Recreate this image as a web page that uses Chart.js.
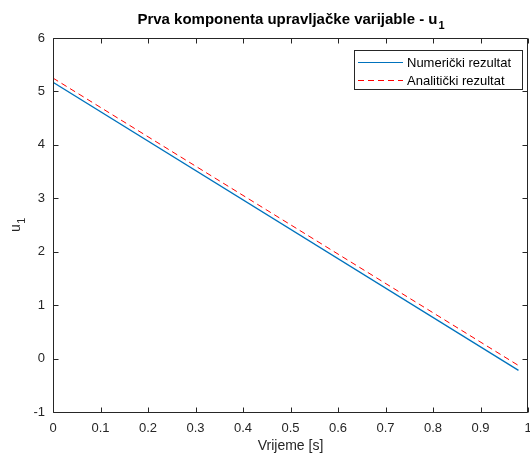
<!DOCTYPE html>
<html>
<head>
<meta charset="utf-8">
<script src="https://cdn.jsdelivr.net/npm/chart.js@4"></script>
<style>
  html, body { margin: 0; padding: 0; background: #fff; }
  #wrap { width: 530px; height: 456px; }
</style>
</head>
<body>
<div id="wrap"><canvas id="c" width="530" height="456"></canvas></div>
<script>
"use strict"
// vrijeme [s] i vrijednosti u1
const vrijeme = [0, 0.98];
const numericki = [5.17, -0.22];
const analiticki = [5.25, -0.13];
const xTicks = [0, 0.1, 0.2, 0.3, 0.4, 0.5, 0.6, 0.7, 0.8, 0.9, 1];
const yTicks = [-1, 0, 1, 2, 3, 4, 5, 6];
const nazivi = ["Numerički rezultat", "Analitički rezultat"];

const osi = "#262626";
const font = "'Liberation Sans', Arial, sans-serif";

function tocke(xs, ys) {
    let out = [];
    for (let i = 0; i < xs.length; i++) out.push({x: xs[i], y: ys[i]});
    return out;
}

// okvir, unutarnje crtice, naslov, legenda
const matlabPlugin = {
    id: "matlab",
    afterDraw(chart) {
        const ctx = chart.ctx;
        const a = chart.chartArea;
        const sx = chart.scales.x, sy = chart.scales.y;
        const L = Math.round(a.left) + 0.5, R = Math.round(a.right) - 0.5;
        const T = Math.round(a.top) + 0.5, B = Math.round(a.bottom) + 0.5;
        ctx.save();
        ctx.strokeStyle = osi;
        ctx.lineWidth = 1;
        ctx.beginPath();
        ctx.rect(L, T, R - L, B - T);
        ctx.stroke();
        const t = 5;
        ctx.beginPath();
        for (const v of xTicks) {
            const px = Math.round(sx.getPixelForValue(v)) + 0.5;
            ctx.moveTo(px, B); ctx.lineTo(px, B - t);
            ctx.moveTo(px, T); ctx.lineTo(px, T + t);
        }
        for (const v of yTicks) {
            const py = Math.round(sy.getPixelForValue(v)) + 0.5;
            ctx.moveTo(L, py); ctx.lineTo(L + t, py);
            ctx.moveTo(R, py); ctx.lineTo(R - t, py);
        }
        ctx.stroke();

        // naslov s indeksom
        const cx = (a.left + a.right) / 2;
        ctx.fillStyle = "#000";
        ctx.font = "bold 15px " + font;
        const glavni = "Prva komponenta upravljačke varijable - u";
        const w1 = ctx.measureText(glavni).width;
        ctx.font = "bold 11px " + font;
        const w2 = ctx.measureText("1").width;
        let x0 = cx - (w1 + w2) / 2;
        ctx.textBaseline = "alphabetic";
        ctx.textAlign = "left";
        ctx.font = "bold 15px " + font;
        ctx.fillText(glavni, x0, 24);
        ctx.font = "bold 11px " + font;
        ctx.fillText("1", x0 + w1 + 1, 29);

        // os y naslov
        ctx.save();
        ctx.translate(20, (a.top + a.bottom) / 2);
        ctx.rotate(-Math.PI / 2);
        ctx.fillStyle = osi;
        ctx.font = "14px " + font;
        const wu = ctx.measureText("u").width;
        ctx.font = "11px " + font;
        const w1b = ctx.measureText("1").width;
        const xs = -(wu + w1b) / 2;
        ctx.font = "14px " + font;
        ctx.fillText("u", xs, 0);
        ctx.font = "11px " + font;
        ctx.fillText("1", xs + wu + 0.5, 5);
        ctx.restore();

        // legenda
        const lx = 354, ly = 50, lw = 168, lh = 39;
        ctx.fillStyle = "#fff";
        ctx.fillRect(lx, ly, lw, lh);
        ctx.strokeStyle = osi;
        ctx.strokeRect(lx + 0.5, ly + 0.5, lw, lh);
        const boje = ["#0072BD", "#FF0000"];
        const crte = [[], [6, 4]];
        for (let i = 0; i < nazivi.length; i++) {
            const yy = Math.round(ly + 12 + i * 18) + 0.5;
            ctx.strokeStyle = boje[i];
            ctx.lineWidth = 1;
            ctx.setLineDash(crte[i]);
            ctx.beginPath();
            ctx.moveTo(lx + 4, yy); ctx.lineTo(lx + 49, yy);
            ctx.stroke();
            ctx.setLineDash([]);
            ctx.fillStyle = "#000";
            ctx.font = "13px " + font;
            ctx.textBaseline = "middle";
            ctx.fillText(nazivi[i], lx + 53, yy + 0.5);
        }
        ctx.restore();
    }
};

const ctx = document.getElementById("c");
new Chart(ctx, {
    type: "scatter",
    data: {
        datasets: [{
            label: nazivi[0],
            data: tocke(vrijeme, numericki),
            showLine: true,
            borderColor: "#0072BD",
            borderWidth: 1.3,
            pointRadius: 0
        }, {
            label: nazivi[1],
            data: tocke(vrijeme, analiticki),
            showLine: true,
            borderColor: "#FF0000",
            borderWidth: 1,
            borderDash: [6, 4],
            pointRadius: 0
        }]
    },
    options: {
        responsive: false,
        animation: false,
        layout: { padding: { top: 38, right: 2, left: 0, bottom: 0 } },
        plugins: { legend: { display: false }, title: { display: false }, tooltip: { enabled: false } },
        scales: {
            x: {
                type: "linear", min: 0, max: 1,
                afterBuildTicks: s => { s.ticks = xTicks.map(v => ({value: v})); },
                afterFit: s => { s.height = 44; s.paddingLeft = 0; s.paddingRight = 0; },
                grid: { display: false, drawTicks: false },
                border: { display: false },
                ticks: { color: osi, font: { family: font, size: 13 }, padding: 9, maxRotation: 0,
                         callback: v => String(v) },
                title: { display: true, text: "Vrijeme [s]", color: osi, font: { family: font, size: 14 }, padding: { top: 0, bottom: 1 } }
            },
            y: {
                type: "linear", min: -1, max: 6,
                afterBuildTicks: s => { s.ticks = yTicks.map(v => ({value: v})); },
                afterFit: s => { s.width = 53; s.paddingTop = 0; s.paddingBottom = 0; },
                grid: { display: false, drawTicks: false },
                border: { display: false },
                ticks: { color: osi, font: { family: font, size: 13 }, padding: 8 }
            }
        }
    },
    plugins: [matlabPlugin]
});
</script>
</body>
</html>
